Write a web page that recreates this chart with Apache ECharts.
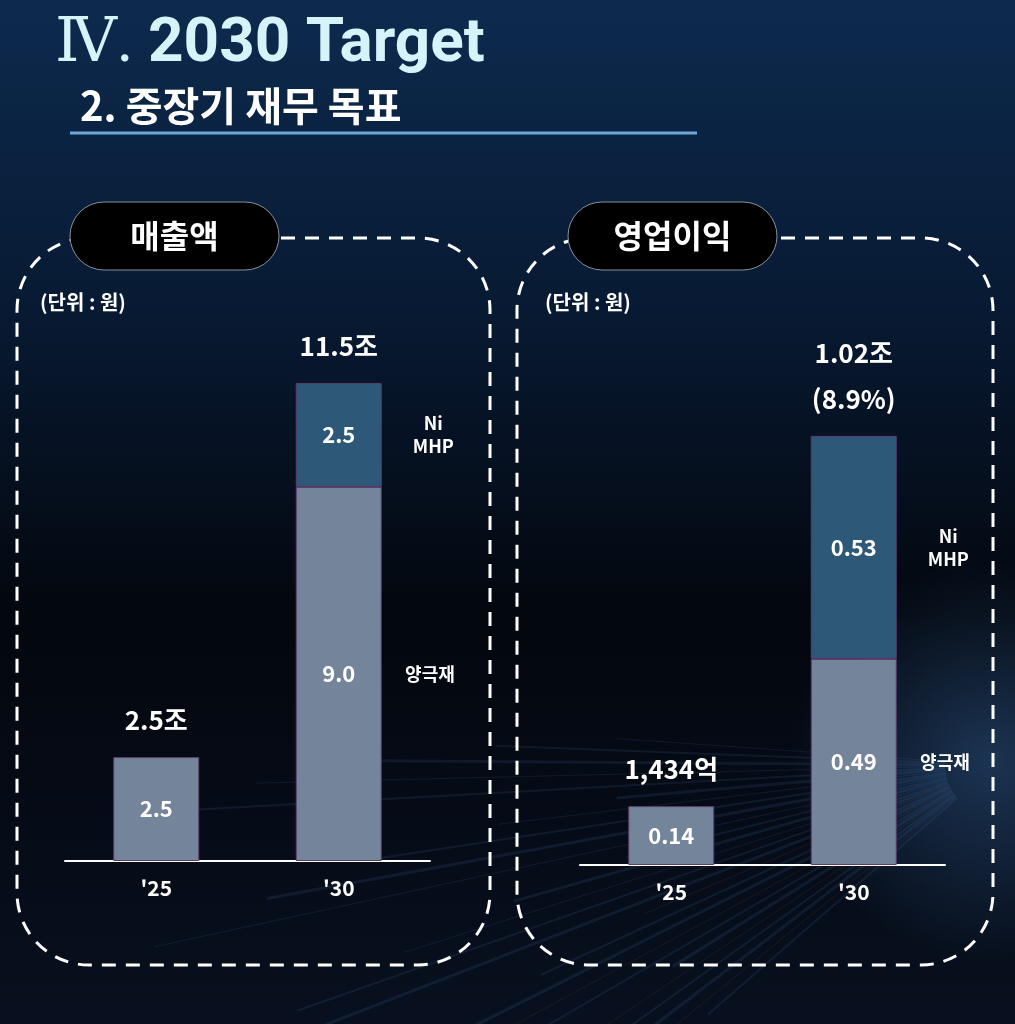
<!DOCTYPE html>
<html>
<head>
<meta charset="utf-8">
<title>2030 Target</title>
<script src="https://cdn.jsdelivr.net/npm/echarts@6/dist/echarts.min.js"></script>
<style>
  html, body { margin: 0; padding: 0; background: #050a14; }
  #chart { width: 1015px; height: 1024px; }
</style>
</head>
<body>
<div id="chart"></div>
<script>
// 데이터
const years = ["'25", "'30"];
const salesCathode = [2.5, 9.0];      // 양극재
const salesNiMhp = ['-', 2.5];        // Ni MHP
const salesTotal = [2.5, 11.5];
const salesTotalText = ['2.5조', '11.5조'];
const opCathode = [0.14, 0.49];
const opNiMhp = ['-', 0.53];
const opTotal = [0.14, 1.02];
const opTotalText = ['1,434억', '1.02조\n(8.9%)'];
const segmentNames = ['양극재', 'Ni\nMHP'];

const FONT = '"Noto Sans CJK KR", "Noto Sans", sans-serif';
const COLOR_CATHODE = '#73849b';
const COLOR_NIMHP = '#2e5878';
const BORDER = '#5b3d6b';

let chart = echarts.init(document.getElementById('chart'));

function sideLabel(name, posX) {
    return {
        show: true,
        position: [posX, '50%'],
        align: 'center',
        verticalAlign: 'middle',
        color: '#fff',
        fontFamily: FONT,
        fontWeight: 'bold',
        fontSize: 18,
        lineHeight: 23,
        formatter: (p) => p.dataIndex === 1 ? name : ''
    };
}

function makeSeries(idx, cathode, niMhp, total, totalText, digits) {
    let inner = {
        show: true,
        position: 'inside',
        color: '#fff',
        fontFamily: FONT,
        fontWeight: 'bold',
        fontSize: 22,
        formatter: (p) => Number(p.value).toFixed(digits)
    };
    return [
        {
            type: 'bar', xAxisIndex: idx, yAxisIndex: idx, stack: 'main' + idx,
            barWidth: 86, data: cathode,
            itemStyle: { color: COLOR_CATHODE, borderColor: BORDER, borderWidth: 1 },
            label: inner
        },
        {
            type: 'bar', xAxisIndex: idx, yAxisIndex: idx, stack: 'main' + idx,
            barWidth: 86, data: niMhp,
            itemStyle: { color: COLOR_NIMHP, borderColor: BORDER, borderWidth: 1 },
            label: inner
        },
        // 오른쪽 구분 라벨용 투명 막대
        {
            type: 'bar', xAxisIndex: idx, yAxisIndex: idx, stack: 'side' + idx,
            barWidth: 86, barGap: '-100%', data: cathode, silent: true,
            itemStyle: { color: 'rgba(0,0,0,0)' },
            label: sideLabel(segmentNames[0], '156%')
        },
        {
            type: 'bar', xAxisIndex: idx, yAxisIndex: idx, stack: 'side' + idx,
            barWidth: 86, barGap: '-100%', data: niMhp, silent: true,
            itemStyle: { color: 'rgba(0,0,0,0)' },
            label: sideLabel(segmentNames[1], '160%')
        },
        {
            type: 'scatter', xAxisIndex: idx, yAxisIndex: idx,
            data: total, symbolSize: 0, silent: true,
            itemStyle: { opacity: 1 },
            label: {
                show: true,
                position: 'top',
                distance: 14,
                color: '#ffffff',
                opacity: 1,
                fontFamily: FONT,
                fontWeight: 'bold',
                fontSize: 26,
                lineHeight: 46,
                formatter: (p) => totalText[p.dataIndex]
            }
        }
    ];
}

function xAxis(gridIndex) {
    return {
        type: 'category', gridIndex: gridIndex, data: years,
        axisLine: { lineStyle: { color: '#ffffff', width: 2 } },
        axisTick: { show: false },
        axisLabel: {
            color: '#fff', fontFamily: FONT, fontWeight: 'bold', fontSize: 21, margin: 17
        }
    };
}

function dashedPanel(x, w) {
    return {
        type: 'rect', z: 1, silent: true,
        shape: { x: x, y: 238, width: w, height: 727, r: 72 },
        style: { fill: 'none', stroke: '#ffffff', lineWidth: 3, lineDash: [14, 10] }
    };
}

function pillBox(x) {
    return {
        type: 'rect', z: 10, silent: true,
        shape: { x: x, y: 202, width: 209, height: 68, r: 34 },
        style: { fill: '#000000', stroke: '#8a8f99', lineWidth: 1 }
    };
}

function pillText(x, text) {
    return {
        type: 'text', z: 11, silent: true,
        style: {
            x: x + 104.5, y: 236, text: text, fill: '#ffffff',
            font: 'bold 32px ' + FONT, textAlign: 'center', textVerticalAlign: 'middle'
        }
    };
}

function unitText(x) {
    return {
        type: 'text', z: 5, silent: true,
        style: {
            x: x, y: 302, text: '(단위 : 원)', fill: '#ffffff',
            font: 'bold 20px ' + FONT, textVerticalAlign: 'middle'
        }
    };
}

// 배경 빛줄기 (장식)
let streaks = [];
for (let i = 0; i < 26; i++) {
    let ang = (176 + i * 1.8) * Math.PI / 180;
    let len = 380 + (i % 5) * 120;
    let warm = i > 12 && i % 3 === 0;
    streaks.push({
        type: 'line', z: 0, silent: true,
        shape: {
            x1: 995 + Math.cos(ang) * 50, y1: 765 - Math.sin(ang) * 50,
            x2: 995 + Math.cos(ang) * len, y2: 765 - Math.sin(ang) * len
        },
        style: {
            stroke: warm ? 'rgba(200,130,70,0.10)' : 'rgba(80,140,210,0.12)',
            lineWidth: 1 + (i % 3)
        }
    });
}

let option = {
    animation: false,
    backgroundColor: {
        type: 'linear', x: 0, y: 0, x2: 0, y2: 1,
        colorStops: [
            { offset: 0, color: '#0d2a4e' },
            { offset: 0.3, color: '#081a33' },
            { offset: 0.6, color: '#03070e' },
            { offset: 1, color: '#08101f' }
        ]
    },
    grid: [
        { left: 65, width: 365, top: 279, bottom: 163 },
        { left: 580, width: 365, top: 276, bottom: 159 }
    ],
    xAxis: [xAxis(0), xAxis(1)],
    yAxis: [
        { type: 'value', gridIndex: 0, min: 0, max: 14, show: false },
        { type: 'value', gridIndex: 1, min: 0, max: 1.4, show: false }
    ],
    graphic: [
        // 우측 하단 빛 번짐
        {
            type: 'circle', z: 0, silent: true,
            shape: { cx: 990, cy: 760, r: 200 },
            style: {
                fill: {
                    type: 'radial', x: 0.5, y: 0.5, r: 0.5,
                    colorStops: [
                        { offset: 0, color: 'rgba(70,130,200,0.35)' },
                        { offset: 1, color: 'rgba(70,130,200,0)' }
                    ]
                }
            }
        },
        ...streaks,
        {
            type: 'text', z: 5, silent: true,
            style: {
                x: 55, y: 76, text: 'Ⅳ.', fill: '#d6f3fa',
                font: '62px "Liberation Serif", "DejaVu Serif", serif', textVerticalAlign: 'bottom'
            }
        },
        {
            type: 'text', z: 5, silent: true,
            style: {
                x: 148, y: 76, text: '2030 Target', fill: '#d6f3fa',
                font: 'bold 62px Roboto, "Noto Sans", sans-serif', textVerticalAlign: 'bottom'
            }
        },
        {
            type: 'text', z: 5, silent: true,
            style: {
                x: 80, y: 106, text: '2. 중장기 재무 목표', fill: '#ffffff',
                font: 'bold 40px ' + FONT, textVerticalAlign: 'middle'
            }
        },
        {
            type: 'line', z: 5, silent: true,
            shape: { x1: 70, y1: 133, x2: 697, y2: 133 },
            style: { stroke: '#6fa6d8', lineWidth: 3 }
        },
        dashedPanel(17, 473),
        dashedPanel(517, 476),
        pillBox(70),
        pillBox(568),
        pillText(70, '매출액'),
        pillText(568, '영업이익'),
        unitText(40),
        unitText(545)
    ],
    series: [
        ...makeSeries(0, salesCathode, salesNiMhp, salesTotal, salesTotalText, 1),
        ...makeSeries(1, opCathode, opNiMhp, opTotal, opTotalText, 2)
    ]
};

chart.setOption(option);
</script>
</body>
</html>
